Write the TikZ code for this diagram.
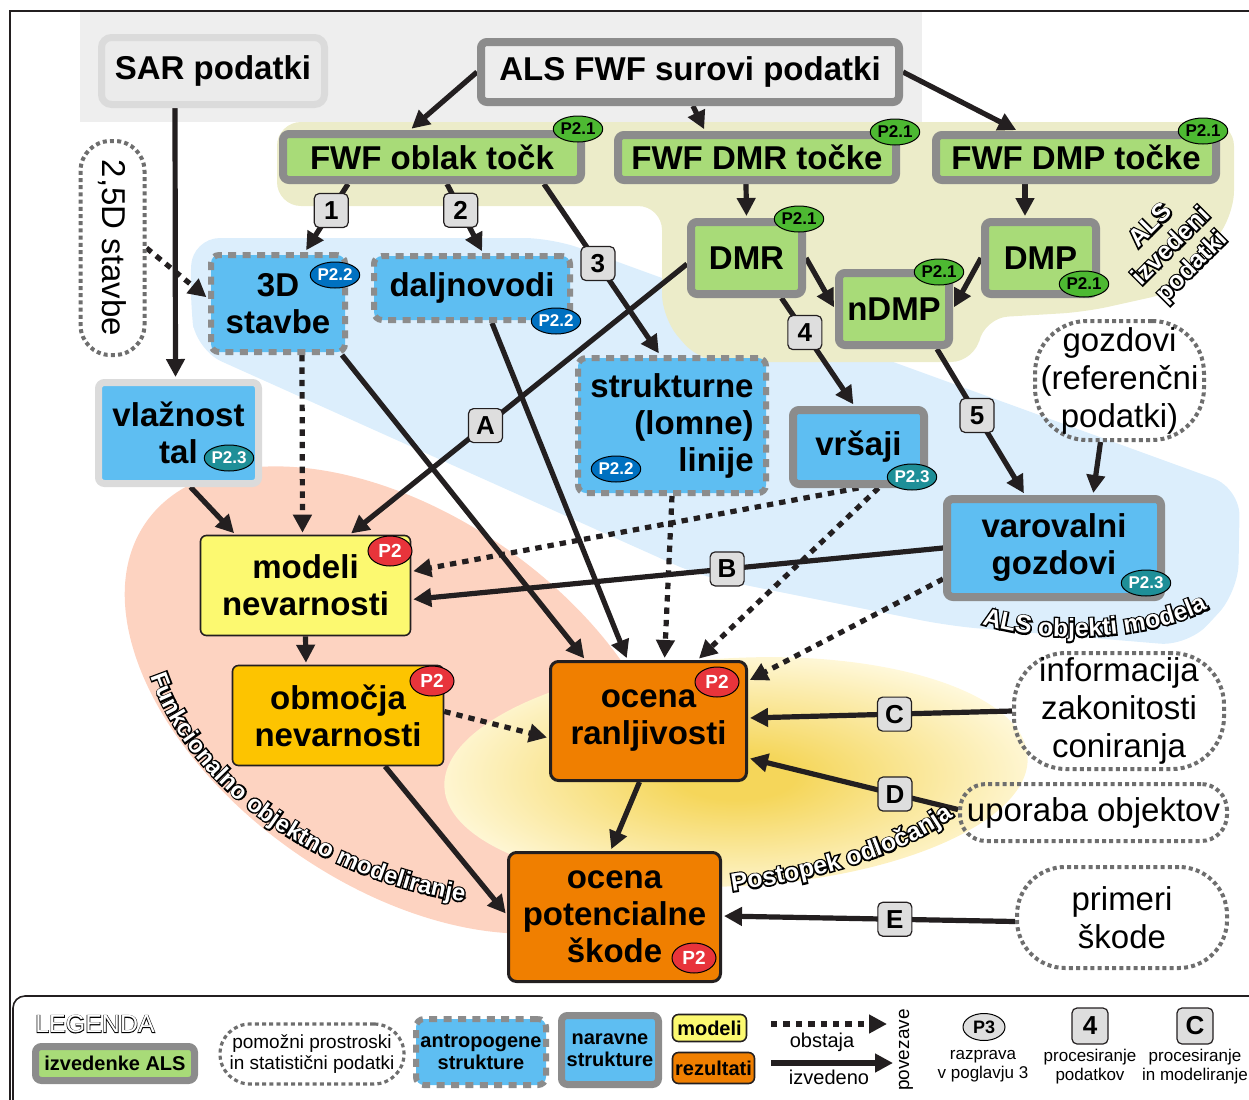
\documentclass[tikz,border=0pt]{standalone}
\usepackage{fontspec}
\setmainfont{Liberation Sans}
\newfontfamily\halofont[FakeBold=12]{Liberation Sans Bold}
\newfontfamily\haloregfont[FakeBold=5]{Liberation Sans}
\newfontfamily\fillfont{Liberation Sans Bold}
\usetikzlibrary{arrows.meta,calc,decorations.text,shapes.geometric}

\definecolor{frameblack}{HTML}{231F20}
\definecolor{rawfill}{HTML}{EDEDED}
\definecolor{rawgray}{HTML}{8C8C8C}
\definecolor{sarfill}{HTML}{EBEBEB}
\definecolor{sargray}{HTML}{DBDBDB}
\definecolor{alsgreen}{HTML}{A8DB78}
\definecolor{skyblue}{HTML}{5EBEF2}
\definecolor{regiongray}{HTML}{EEEEEE}
\definecolor{regiongreen}{HTML}{ECECC9}
\definecolor{regionblue}{HTML}{DCEEFC}
\definecolor{regionsalmon}{HTML}{FDD3C1}
\definecolor{yelcore}{HTML}{F5D65A}
\definecolor{yelrim}{HTML}{FFF9DE}
\definecolor{modelyellow}{HTML}{FCF970}
\definecolor{zonegold}{HTML}{FDC400}
\definecolor{resultorange}{HTML}{F07F00}
\definecolor{tagred}{HTML}{E8343B}
\definecolor{tagblue}{HTML}{0071C1}
\definecolor{tagteal}{HTML}{1E8F98}
\definecolor{taggreen}{HTML}{4DB932}
\definecolor{lblgray}{HTML}{DEDEDE}
\definecolor{auxgray}{HTML}{6E6E6E}

\newcommand\boxfont{\fontsize{16.5}{18.5}\selectfont\bfseries}
\newcommand\auxfont{\fontsize{16.5}{19}\selectfont}
\newcommand\tagfont{\fontsize{8.5}{9}\selectfont\bfseries}
\newcommand\lblfont{\fontsize{13}{13}\selectfont\bfseries}
\newcommand\legfont{\fontsize{9.5}{10.5}\selectfont}
\newcommand\legboldfont{\fontsize{10}{11}\selectfont\bfseries}
\newcommand\capfont{\fontsize{8.5}{9.5}\selectfont}

% white lettering with a black rim, along a curve
\newcommand\arclabel[3]{%
  \path[decorate, decoration={text along path, text align=center,
    text={|\halofont\fontsize{#1}{#1}\selectfont\color{black}|#3}}] #2;
  \path[decorate, decoration={text along path, text align=center,
    text={|\fillfont\fontsize{#1}{#1}\selectfont\color{white}|#3}}] #2;}

\pgfdeclarelayer{regions}
\pgfdeclarelayer{links}
\pgfsetlayers{regions,links,main}
\pgfdeclareradialshading{decisionglow}{\pgfpoint{0bp}{0bp}}{color(0bp)=(yelcore); color(5bp)=(yelcore); color(27bp)=(yelrim); color(50bp)=(yelrim)}

\begin{document}
\begin{tikzpicture}[x=0.5pt, y=-0.5pt,
  dims/.style 2 args={minimum width=#1pt, minimum height=#2pt},
  plate/.style={inner sep=0pt, align=center, font=\boxfont},
  raw/.style={plate, draw=rawgray, fill=rawfill, line width=4pt, rounded corners=3pt},
  sar/.style={plate, draw=sargray, fill=sarfill, line width=3.5pt, rounded corners=5pt},
  derived/.style={plate, draw=rawgray, fill=alsgreen, line width=4pt, rounded corners=3pt},
  natural/.style={plate, draw=rawgray, fill=skyblue, line width=4pt, rounded corners=3pt},
  soil/.style={plate, draw=sargray, fill=skyblue, line width=3.5pt, rounded corners=3pt},
  human/.style={plate, draw=rawgray, fill=skyblue, line width=3pt, dash pattern=on 4pt off 3.2pt, rounded corners=4pt},
  model/.style={plate, draw=frameblack, line width=0.8pt, rounded corners=3pt},
  result/.style={plate, draw=frameblack, fill=resultorange, line width=1.5pt, rounded corners=4pt},
  aux/.style={plate, font=\auxfont, draw=auxgray, line width=2pt, dash pattern=on 2pt off 1.6pt},
  tag/.style={ellipse, draw=black, line width=0.5pt, inner sep=0pt, minimum width=22pt, minimum height=13pt, font=\tagfont},
  redtag/.style={tag, fill=tagred, text=white, minimum height=15pt, font=\fontsize{9.5}{10}\selectfont\bfseries},
  lbl/.style={draw=frameblack, fill=lblgray, line width=0.6pt, rounded corners=2.5pt, minimum size=17pt, inner sep=0pt, font=\lblfont},
  link/.style={draw=frameblack, line width=2.6pt, -{Triangle[length=9pt,width=9pt]}, shorten >=1pt},
  exists/.style={link, dash pattern=on 3.2pt off 3pt},
  note/.style={inner sep=0pt, align=center, font=\legfont}]
\useasboundingbox (0,0) rectangle (1249,1099);

\draw[frameblack, line width=1.2pt] (1262,11) -- (10,11) -- (10,1112);

% data sources
\node[sar, dims={111.5}{33.5}] (sar) at (213,71) {SAR podatki};
\node[raw, dims={209}{30}] (als) at (690,72) {ALS FWF surovi podatki};

% ALS derived data
\node[derived, dims={149}{23}] (oblak) at (432,157) {FWF oblak točk};
\node[derived, dims={139}{22.5}] (dmrt) at (757,157.5) {FWF DMR točke};
\node[derived, dims={140}{22.5}] (dmpt) at (1076,157.5) {FWF DMP točke};
\node[derived, dims={55.5}{36}] (dmr) at (746.5,258) {DMR};
\node[derived, dims={55.5}{36}] (dmp) at (1040.5,258) {DMP};
\node[derived, dims={55}{36}] (ndmp) at (894,309) {nDMP};

% model objects
\node[human, dims={67}{48.5}] (stavbe) at (278,303.5) {3D\\stavbe};
\node[human, dims={98}{32}] (dalj) at (472,288) {daljnovodi};
\node[human, dims={94}{67.5}, align=right] (strukt) at (672,425.5) {strukturne\\(lomne)\\linije};
\node[natural, dims={65.5}{37}] (vrsaji) at (858.5,447) {vršaji};
\node[natural, dims={107}{49}] (varov) at (1054,548) {varovalni\\gozdovi};
\node[soil, dims={80}{50.5}] (vlaz) at (178.5,433) {vlažnost\\tal};

% auxiliary data
\node[aux, rotate=-90, dims={107}{32}, rounded corners=15pt] (dvapet) at (112.5,248) {2,5D stavbe};
\node[aux, dims={84.5}{59.5}, rounded corners=26pt] (gozdovi) at (1119.5,380.5) {gozdovi\\(referenčni\\podatki)};
\node[aux, dims={105}{58}, rounded corners=26pt] (inform) at (1119,711) {informacija\\zakonitosti\\coniranja};
\node[aux, dims={133.5}{28.5}, rounded corners=13pt] (uporaba) at (1093.5,812.5) {uporaba objektov};
\node[aux, dims={105}{50.5}, rounded corners=24pt] (primeri) at (1122,917.5) {primeri\\škode};

% models and results
\node[model, fill=modelyellow, dims={105}{50}] (modeli) at (305.5,585.5) {modeli\\nevarnosti};
\node[model, fill=zonegold, dims={105.5}{50}] (obmocja) at (338,715.5) {območja\\nevarnosti};
\node[result, dims={98}{59.5}] (ranlj) at (648.5,721) {ocena\\ranljivosti};
\node[result, dims={106}{64.5}] (skode) at (614.5,917) {ocena\\potencialne\\škode};

% chapter tags
\node[tag, fill=taggreen] (tOblak) at (578,129) {P2.1};
\node[tag, fill=taggreen] (tDmrt) at (895,132) {P2.1};
\node[tag, fill=taggreen] (tDmpt) at (1203,131) {P2.1};
\node[tag, fill=taggreen] (tDmr) at (799,219) {P2.1};
\node[tag, fill=taggreen] (tNdmp) at (939,272) {P2.1};
\node[tag, fill=taggreen] (tDmp) at (1084,284) {P2.1};
\node[tag, fill=tagblue, text=white] (tStavbe) at (335,275) {P2.2};
\node[tag, fill=tagblue, text=white] (tDalj) at (556,321) {P2.2};
\node[tag, fill=tagblue, text=white] (tStrukt) at (616,469) {P2.2};
\node[tag, fill=tagteal, text=white] (tVlaz) at (229,458) {P2.3};
\node[tag, fill=tagteal, text=white] (tVrsaji) at (912,477) {P2.3};
\node[tag, fill=tagteal, text=white] (tVarov) at (1146,583) {P2.3};
\node[redtag] (tModeli) at (390,551) {P2};
\node[redtag] (tObmocja) at (432,681) {P2};
\node[redtag] (tRanlj) at (717,682) {P2};
\node[redtag] (tSkode) at (694,958) {P2};

% background regions
\begin{pgfonlayer}{regions}
\fill[regiongray] (80,12) rectangle (922,122);
\fill[regionblue, rounded corners=14pt] (190,300) -- (192,238) -- (552,238) -- (1240,488) -- (1238,592) -- (1188,646) -- (950,626) -- (700,576) -- (450,464) -- (196,350) -- cycle;
\fill[regiongreen, rounded corners=12pt] (277,122) -- (1234,122) -- (1234,215) -- (1175,292) -- (1085,312) -- (984,318) -- (975,362) -- (700,362) -- (662,318) -- (662,206) -- (277,206) -- cycle;
\fill[regionsalmon, rotate around={-35:(400,700)}] (400,700) ellipse (310 and 185);
\shade[shading=decisionglow, rotate around={3:(736,772)}] (736,772) ellipse (292 and 114);
\end{pgfonlayer}

% connectors
\begin{pgfonlayer}{links}
\draw[link] ($(sar.south)+(-38,0)$) -- ($(vlaz.north)+(-3,0)$);
\draw[link] (als.west) -- ($(oblak.north)+(-22,0)$);
\draw[link] ($(als.south)+(3,0)$) -- ($(dmrt.north)+(-52,0)$);
\draw[link] (als.east) -- ($(dmpt.north)+(-58,0)$);
\draw[link] ($(dmrt.south)+(-11,0)$) -- ($(dmr.north)+(0,0)$);
\draw[link] ($(dmpt.south)+(-51,0)$) -- ($(dmp.north)+(-15.5,0)$);
\draw[link] (dmr.east) -- (ndmp.west);
\draw[link] (dmp.west) -- (ndmp.east);
\draw[link] ($(oblak.south)+(-84,0)$) -- node[lbl, pos=0.39] (n1) {1} ($(stavbe.north)+(27,0)$);
\draw[link] ($(oblak.south)+(15,0)$) -- node[lbl, pos=0.38] (n2) {2} ($(dalj.north)+(11,0)$);
\draw[link] ($(oblak.south)+(112,0)$) -- node[lbl, pos=0.465] (n3) {3} ($(strukt.north)+(-12,0)$);
\draw[link] ($(dmr.south)+(35,0)$) -- node[lbl, pos=0.32] (n4) {4} ($(vrsaji.north)+(-4,0)$);
\draw[link] ($(ndmp.south)+(43,0)$) -- node[lbl, pos=0.455] (n5) {5} ($(varov.north)+(-29,0)$);
\draw[link] ($(gozdovi.south)+(-19,0)$) -- ($(varov.north)+(39,0)$);
\draw[link] ($(dmr.west)+(0,6)$) -- node[lbl, pos=0.597] (nA) {A} ($(modeli.north)+(44,0)$);
\draw[exists] ($(stavbe.south)+(24,0)$) -- ($(modeli.north)+(-3,0)$);
\draw[link] ($(vlaz.south)+(12,0)$) -- ($(modeli.north)+(-70,0)$);
\draw[link] ($(stavbe.south east)+(-6,0)$) -- ($(ranlj.north)+(-63,0)$);
\draw[link] ($(dalj.south)+(20,0)$) -- ($(ranlj.north)+(-21,0)$);
\draw[exists] (strukt.south) -- ($(ranlj.north)+(16,0)$);
\draw[exists] (vrsaji.south) -- ($(modeli.east)+(0,-14)$);
\draw[exists] ($(vrsaji.south)+(20,0)$) -- ($(ranlj.north)+(49,0)$);
\draw[link] (varov.west) -- node[lbl, pos=0.406] (nB) {B} ($(modeli.east)+(0,14)$);
\draw[exists] ($(varov.south west)+(0,-22)$) -- ($(ranlj.east)+(0,-40)$);
\draw[exists] ($(obmocja.east)+(0,-4)$) -- ($(ranlj.west)+(0,17)$);
\draw[link] (modeli.south) -- ($(obmocja.north)+(-32,0)$);
\draw[link] ($(obmocja.south)+(47,0)$) -- ($(skode.west)+(0,-2)$);
\draw[link] ($(ranlj.south)+(-9,0)$) -- ($(skode.north)+(-4,0)$);
\draw[link] (inform.west) -- node[lbl, pos=0.445] (nC) {C} ($(ranlj.east)+(0,-3)$);
\draw[link] ($(uporaba.west)+(0,-3)$) -- node[lbl, pos=0.30] (nD) {D} ($(ranlj.east)+(0,37)$);
\draw[link] ($(primeri.west)+(0,4)$) -- node[lbl, pos=0.41] (nE) {E} ($(skode.east)+(0,-1)$);
\draw[exists] (dvapet.north) -- ($(stavbe.west)+(0,-5)$);
\end{pgfonlayer}

% region names
\arclabel{12}{(148,668) .. controls (185,790) and (320,880) .. (472,903)}{Funkcionalno objektno modeliranje}
\arclabel{12.5}{(722,893) .. controls (810,880) and (900,860) .. (962,810)}{Postopek odločanja}
\arclabel{12.5}{(976,622) .. controls (1040,645) and (1150,642) .. (1214,606)}{ALS objekti modela}
\node[rotate=45, align=center, font=\halofont\fontsize{12.5}{14.5}\selectfont] (izvedeniRim) at (1172,247) {ALS\\izvedeni\\podatki};
\node[rotate=45, align=center, text=white, font=\fillfont\fontsize{12.5}{14.5}\selectfont] (izvedeni) at (1172,247) {ALS\\izvedeni\\podatki};

% legend
\draw[frameblack, line width=0.8pt, rounded corners=6pt] (1262,996) -- (13,996) -- (13,1112);
\node[font=\haloregfont\fontsize{12.5}{13}\selectfont] (legendaRim) at (95,1024) {LEGENDA};
\node[font=\fontsize{12.5}{13}\selectfont, text=white] (legenda) at (95,1024) {LEGENDA};
\node[derived, line width=3.5pt, dims={79.5}{17}, font=\legboldfont] (legAls) at (115,1063.5) {izvedenke ALS};
\node[aux, line width=1.6pt, dims={92}{30}, rounded corners=15pt, font=\legfont] (legAux) at (312,1054) {pomožni prostroski\\in statistični podatki};
\node[human, dims={65}{33}, font=\legboldfont] (legHuman) at (481,1052) {antropogene\\strukture};
\node[natural, line width=3.5pt, dims={48.5}{34.5}, font=\legboldfont] (legNatural) at (610,1050) {naravne\\strukture};
\node[model, fill=modelyellow, dims={37}{13.5}, font=\legboldfont] (legModel) at (709.5,1028) {modeli};
\node[model, fill=resultorange, dims={41}{15.5}, font=\legboldfont] (legResult) at (713.5,1068) {rezultati};
\coordinate (exA) at (771,1024);
\coordinate (exB) at (889,1024);
\coordinate (drA) at (771,1063);
\coordinate (drB) at (895,1063);
\draw[exists] (exA) -- (exB);
\draw[link] (drA) -- (drB);
\node[note, font=\fontsize{10}{10}\selectfont] (legObstaja) at (822,1042) {obstaja};
\node[note, font=\fontsize{10}{10}\selectfont] (legIzvedeno) at (829,1077) {izvedeno};
\node[note, rotate=90] (legPovezave) at (906,1050) {povezave};
\node[tag, fill=lblgray, minimum width=21pt, minimum height=13.5pt, font=\fontsize{9}{9}\selectfont\bfseries] (legTag) at (984,1027) {P3};
\node[note, font=\capfont] (legTagTxt) at (983,1066) {razprava\\v poglavju 3};
\node[lbl, minimum size=18pt] (legNum) at (1090,1026) {4};
\node[note, font=\capfont] (legNumTxt) at (1090,1067) {procesiranje\\podatkov};
\node[lbl, minimum size=18pt] (legLetter) at (1195,1026) {C};
\node[note, font=\capfont] (legLetterTxt) at (1195,1067) {procesiranje\\in modeliranje};
\end{tikzpicture}
\end{document}
